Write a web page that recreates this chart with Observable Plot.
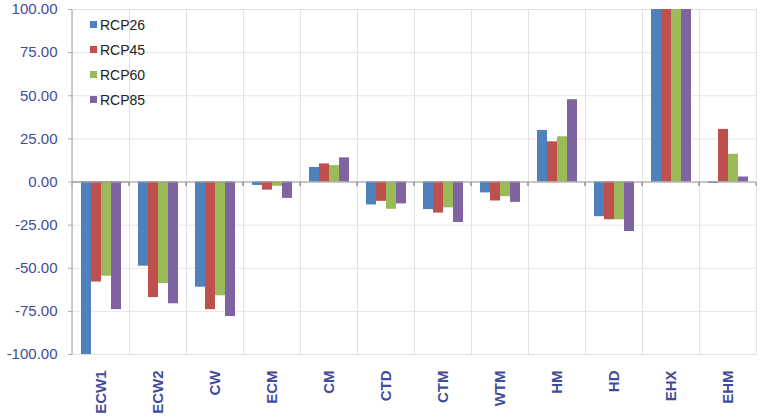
<!DOCTYPE html>
<html>
<head>
<meta charset="utf-8">
<script src="https://cdn.jsdelivr.net/npm/d3@7"></script>
<script src="https://cdn.jsdelivr.net/npm/@observablehq/plot@0.6"></script>
<style>
  html, body { margin: 0; padding: 0; background: #fff; }
  #wrap { position: relative; width: 762px; height: 417px; font-family: "Liberation Sans", Arial, sans-serif; }
  #legend { position: absolute; left: 90px; top: 12px; font-size: 14px; color: #222; }
  #legend .item { display: flex; align-items: center; height: 25px; }
  #legend .sw { width: 7px; height: 7px; margin-right: 3px; }
</style>
</head>
<body>
<div id="wrap"><div id="legend"></div></div>
<script>
const categories = ["ECW1","ECW2","CW","ECM","CM","CTD","CTM","WTM","HM","HD","EHX","EHM"];
const series = ["RCP26","RCP45","RCP60","RCP85"];
const rcp26 = [-100, -48.8, -61, -2, 8.4, -13.3, -16, -6.3, 29.9, -20.1, 100, -0.8];
const rcp45 = [-58, -67, -74, -4.7, 10.5, -11.2, -18, -11, 23.3, -21.9, 100, 30.5];
const rcp60 = [-54.6, -58.9, -66, -2.5, 9.5, -15.8, -15, -8.5, 26.2, -21.9, 100, 16.1];
const rcp85 = [-74, -70.6, -78, -9.5, 14, -12.7, -23.5, -11.8, 47.7, -28.7, 100, 2.9];
const colors = ["#4F81BD", "#C0504D", "#9BBB59", "#8064A2"];
const yTicks = [-100, -75, -50, -25, 0, 25, 50, 75, 100];

const valuesBySeries = [rcp26, rcp45, rcp60, rcp85];
const rows = [];
categories.forEach((c, i) => {
  series.forEach((s, j) => rows.push({category: c, series: s, value: valuesBySeries[j][i]}));
});

const labelColor = "#3f4c9c";
const SVGNS = "http://www.w3.org/2000/svg";

function addLine(g, x1, y1, x2, y2, stroke) {
  const line = document.createElementNS(SVGNS, "line");
  line.setAttribute("x1", x1); line.setAttribute("x2", x2);
  line.setAttribute("y1", y1); line.setAttribute("y2", y2);
  line.setAttribute("stroke", stroke);
  g.appendChild(line);
}

function edgeTicks(index, scales, values, dimensions, context, next) {
  const g = next(index, scales, values, dimensions, context);
  const y0 = scales.y(0);
  const xs = scales.x.range();
  for (const x of xs) addLine(g, x, y0, x, y0 + 4, "#999");
  return g;
}

function leftLine(index, scales, values, dimensions, context, next) {
  const g = next(index, scales, values, dimensions, context);
  if (index.length) {
    const x = scales.x.range()[0];
    addLine(g, x, scales.y(100), x, scales.y(-100), "#b0b0b0");
  }
  return g;
}

const chart = Plot.plot({
  width: 762,
  height: 417,
  marginLeft: 70,
  marginRight: 4,
  marginTop: 9,
  marginBottom: 63,
  style: {fontFamily: "'Liberation Sans', Arial, sans-serif", background: "transparent"},
  fx: {domain: categories, padding: 0},
  x: {domain: series, paddingInner: 0, paddingOuter: 0.72},
  y: {domain: [-100, 100]},
  color: {domain: series, range: colors},
  marks: [
    Plot.gridY(yTicks, {stroke: "#e6e6e6", strokeOpacity: 1}),
    Plot.frame({stroke: "#e2e2e2"}),
    Plot.barY(rows, {fx: "category", x: "series", y: "value", fill: "series"}),
    Plot.ruleY([0], {stroke: "#9a9a9a", strokeWidth: 1.2, render: edgeTicks}),
    Plot.ruleY([{category: categories[0], v: 0}], {fx: "category", y: "v", stroke: "#9a9a9a", strokeWidth: 1.2, render: leftLine}),
    Plot.axisY(yTicks, {
      tickFormat: d => d.toFixed(2), fontSize: 15, fill: labelColor,
      stroke: "#aaa", tickSize: 4, tickPadding: 11, label: null
    }),
    Plot.axisFx({
      anchor: "bottom", tickRotate: -90, fontSize: 15, fontWeight: "bold",
      fill: labelColor, tickSize: 0, tickPadding: 16, label: null
    }),
    Plot.axisX({ticks: [], label: null, tickSize: 0})
  ]
});
chart.style.position = "absolute";
chart.style.left = "0";
chart.style.top = "0";
const wrap = document.getElementById("wrap");
wrap.insertBefore(chart, wrap.firstChild);

const legend = document.getElementById("legend");
series.forEach((s, i) => {
  const item = document.createElement("div");
  item.className = "item";
  const sw = document.createElement("span");
  sw.className = "sw";
  sw.style.background = colors[i];
  const t = document.createElement("span");
  t.textContent = s;
  item.appendChild(sw); item.appendChild(t);
  legend.appendChild(item);
});
</script>
</body>
</html>
